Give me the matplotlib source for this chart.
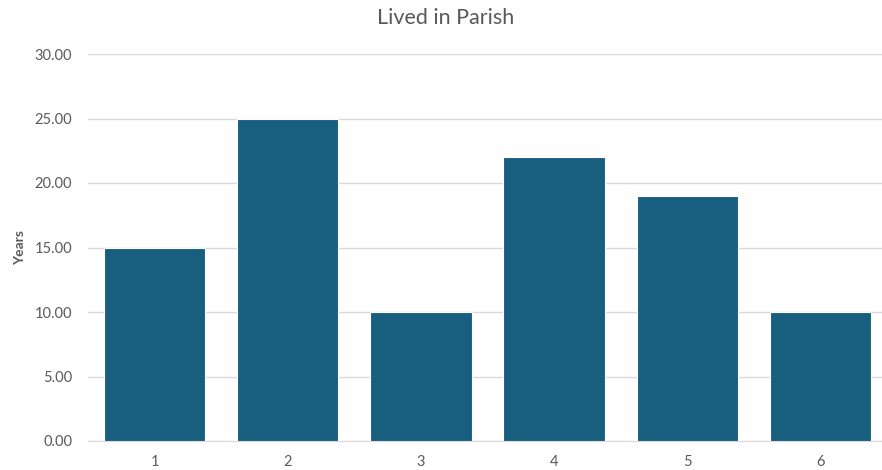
import matplotlib
matplotlib.use("Agg")
import matplotlib.pyplot as plt

categories = ["1", "2", "3", "4", "5", "6"]
values = [15, 25, 10, 22, 19, 10]
yticks = [0, 5, 10, 15, 20, 25, 30]

plt.rcParams['font.family'] = ['Lato', 'DejaVu Sans']
text_color = "#595959"

fig = plt.figure(figsize=(8.82, 4.70), dpi=100)
ax = fig.add_axes([88/882, 29/470, 799/882, 387/470])

x = list(range(1, len(categories) + 1))
ax.bar(x, values, width=0.76, color="#175E7F", edgecolor="white", linewidth=0.8, zorder=3)

ax.set_xlim(0.5, 6.5)
ax.set_ylim(0, 30)
ax.set_yticks(yticks)
ax.set_yticklabels([f"{v:.2f}" for v in yticks])
ax.set_xticks(x)
ax.set_xticklabels(categories)
ax.yaxis.grid(True, color="#D9D9D9", linewidth=1, zorder=0)
ax.set_axisbelow(True)
for s in ["top", "right", "left"]:
    ax.spines[s].set_visible(False)
ax.spines["bottom"].set_color("#D9D9D9")
ax.tick_params(axis="both", length=0, labelsize=10.5, labelcolor=text_color)
ax.tick_params(axis="y", pad=11.5)
ax.tick_params(axis="x", pad=10)
ax.set_ylabel("Years", fontsize=10, color=text_color, fontweight="bold", labelpad=6)
fig.text(446/882, 1 - 18/470, "Lived in Parish", ha="center", va="center",
         fontsize=15.5, color=text_color)

fig.savefig("out.png", dpi=100)
